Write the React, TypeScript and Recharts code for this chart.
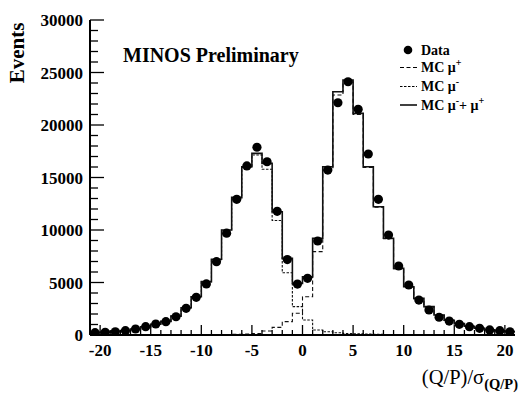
import React from "react";
import { ComposedChart, Line, Scatter, XAxis, YAxis } from "recharts";

// Bin centres of (Q/P)/sigma(Q/P)
const BIN_CENTERS = [
  -20.5, -19.5, -18.5, -17.5, -16.5, -15.5, -14.5, -13.5, -12.5, -11.5,
  -10.5, -9.5, -8.5, -7.5, -6.5, -5.5, -4.5, -3.5, -2.5, -1.5, -0.5,
  0.5, 1.5, 2.5, 3.5, 4.5, 5.5, 6.5, 7.5, 8.5, 9.5,
  10.5, 11.5, 12.5, 13.5, 14.5, 15.5, 16.5, 17.5, 18.5, 19.5, 20.5,
];

const DATA_EVENTS = [
  220, 260, 310, 410, 570, 790, 1050, 1270, 1740, 2540,
  3590, 4860, 6980, 9700, 12920, 16100, 17880, 16500, 11780, 7180, 4850,
  5400, 8950, 15710, 22120, 24120, 21500, 17240, 12920, 9520, 6570,
  4760, 3330, 2380, 1690, 1330, 1020, 790, 640, 480, 410, 310,
];

const MC_TOTAL = [
  230, 270, 330, 420, 560, 780, 1020, 1300, 1800, 2600,
  3650, 5080, 7210, 10000, 13110, 16030, 17300, 16350, 11740, 7300, 4920,
  5550, 9210, 16030, 23170, 24290, 21110, 16030, 12220, 9210, 6350,
  4600, 3490, 2700, 1900, 1400, 1080, 830, 650, 500, 400, 320,
];

const MC_MUMINUS = [
  230, 270, 330, 420, 560, 780, 1020, 1300, 1795, 2590,
  3635, 5060, 7180, 9960, 13050, 15950, 17150, 15780, 10900, 5930, 2700,
  1430, 480, 310, 220, 150, 110, 80, 60, 50, 40,
  30, 25, 20, 15, 10, 10, 8, 6, 5, 4, 3,
];

const MC_MUPLUS = [
  0, 0, 0, 0, 0, 0, 0, 0, 5, 10,
  15, 20, 30, 40, 60, 80, 150, 380, 730, 1270, 2070,
  3650, 7940, 15700, 22860, 24100, 21000, 15950, 12160, 9160, 6310,
  4570, 3465, 2680, 1885, 1390, 1070, 822, 644, 495, 396, 317,
];

const X_DOMAIN = [-21, 21];
const Y_DOMAIN = [0, 30000];
const X_LABELS = [-20, -15, -10, -5, 0, 5, 10, 15, 20];
const Y_LABELS = [0, 5000, 10000, 15000, 20000, 25000, 30000];
const X_TICKS = Array.from({ length: 41 }, (_, i) => i - 20);
const Y_TICKS = Array.from({ length: 31 }, (_, i) => i * 1000);

const BIN_WIDTH = 1;

const stepData = (vals: number[]) => {
  const pts = BIN_CENTERS.map((c, i) => ({ x: c - BIN_WIDTH / 2, y: vals[i] }));
  pts.push({ x: BIN_CENTERS[BIN_CENTERS.length - 1] + BIN_WIDTH / 2, y: vals[vals.length - 1] });
  return pts;
};

const pointData = BIN_CENTERS.map((c, i) => ({ x: c, y: DATA_EVENTS[i] }));

const FONT = "'Liberation Serif', 'DejaVu Serif', serif";

const isMajorX = (v: number) => X_LABELS.includes(v);
const isMajorY = (v: number) => Y_LABELS.includes(v);

const BottomTick = (p: any) => {
  const v = p.payload.value;
  const major = isMajorX(v);
  return (
    <g>
      <line x1={p.x} x2={p.x} y1={p.y} y2={p.y - (major ? 10 : 5)} stroke="#000" strokeWidth={1.3} />
      {major && (
        <text x={p.x} y={p.y} dy={21} textAnchor="middle" fontFamily={FONT} fontWeight="bold" fontSize={17} fill="#000">
          {v}
        </text>
      )}
    </g>
  );
};

const TopTick = (p: any) => {
  const v = p.payload.value;
  const major = isMajorX(v);
  return <line x1={p.x} x2={p.x} y1={p.y} y2={p.y + (major ? 10 : 5)} stroke="#000" strokeWidth={1.3} />;
};

const LeftTick = (p: any) => {
  const v = p.payload.value;
  const major = isMajorY(v);
  return (
    <g>
      <line x1={p.x} x2={p.x + (major ? 14 : 8)} y1={p.y} y2={p.y} stroke="#000" strokeWidth={1.3} />
      {major && (
        <text x={p.x - 7} y={p.y} dy={6} textAnchor="end" fontFamily={FONT} fontWeight="bold" fontSize={17} fill="#000">
          {v}
        </text>
      )}
    </g>
  );
};

const RightTick = (p: any) => {
  const v = p.payload.value;
  const major = isMajorY(v);
  return <line x1={p.x} x2={p.x - (major ? 10 : 6)} y1={p.y} y2={p.y} stroke="#000" strokeWidth={1.3} />;
};

const Marker = (p: any) => <circle cx={p.cx} cy={p.cy} r={4.6} fill="#000" />;

export default function App() {
  return (
    <div style={{ position: "absolute", left: 0, top: 0, width: 520, height: 394, background: "#fff" }}>
      <ComposedChart width={520} height={394} margin={{ top: 20, right: 5, bottom: 0, left: 0 }}>
        <XAxis
          type="number"
          dataKey="x"
          domain={X_DOMAIN}
          ticks={X_TICKS}
          interval={0}
          height={59}
          allowDataOverflow
          tickSize={0}
          tickMargin={0}
          tickLine={false}
          axisLine={{ stroke: "#000", strokeWidth: 2 }}
          tick={<BottomTick />}
        />
        <XAxis
          xAxisId="top"
          orientation="top"
          type="number"
          dataKey="x"
          domain={X_DOMAIN}
          ticks={X_TICKS}
          interval={0}
          height={0}
          allowDataOverflow
          tickSize={0}
          tickMargin={0}
          tickLine={false}
          axisLine={{ stroke: "#000", strokeWidth: 1.5 }}
          tick={<TopTick />}
        />
        <YAxis
          type="number"
          domain={Y_DOMAIN}
          ticks={Y_TICKS}
          interval={0}
          width={90}
          allowDataOverflow
          tickSize={0}
          tickMargin={0}
          tickLine={false}
          axisLine={{ stroke: "#000", strokeWidth: 2 }}
          tick={<LeftTick />}
        />
        <YAxis
          yAxisId="right"
          orientation="right"
          type="number"
          domain={Y_DOMAIN}
          ticks={Y_TICKS}
          interval={0}
          width={0}
          allowDataOverflow
          tickSize={0}
          tickMargin={0}
          tickLine={false}
          axisLine={{ stroke: "#000", strokeWidth: 1.5 }}
          tick={<RightTick />}
        />
        <Line
          data={stepData(MC_MUPLUS)}
          dataKey="y"
          type="stepAfter"
          stroke="#111"
          strokeWidth={1.1}
          strokeDasharray="4 2.5"
          dot={false}
          isAnimationActive={false}
        />
        <Line
          data={stepData(MC_MUMINUS)}
          dataKey="y"
          type="stepAfter"
          stroke="#111"
          strokeWidth={1.1}
          strokeDasharray="2.5 1.5"
          dot={false}
          isAnimationActive={false}
        />
        <Line
          data={stepData(MC_TOTAL)}
          dataKey="y"
          type="stepAfter"
          stroke="#111"
          strokeWidth={1.6}
          dot={false}
          isAnimationActive={false}
        />
        <Scatter data={pointData} dataKey="y" fill="#000" shape={<Marker />} isAnimationActive={false} />
      </ComposedChart>
      <svg
        width={520}
        height={394}
        style={{ position: "absolute", left: 0, top: 0, pointerEvents: "none" }}
      >
        <text x={123} y={62} fontFamily={FONT} fontWeight="bold" fontSize={20} fill="#000">
          MINOS Preliminary
        </text>
        <text
          transform="translate(24,53) rotate(-90)"
          textAnchor="middle"
          fontFamily={FONT}
          fontWeight="bold"
          fontSize={21}
          fill="#000"
        >
          Events
        </text>
        <text x={518} y={384} textAnchor="end" fontFamily={FONT} fontSize={20.5} fill="#000">
          <tspan>(Q/P)/σ</tspan>
          <tspan dy={5} fontSize={14.5} fontWeight="bold">(Q/P)</tspan>
        </text>
        {/* legend */}
        <g fontFamily={FONT} fontWeight="bold" fontSize={14} fill="#000">
          <circle cx={408} cy={50} r={4.3} fill="#000" />
          <text x={421} y={55}>Data</text>
          <line x1={400} x2={417} y1={67.5} y2={67.5} stroke="#000" strokeWidth={1} strokeDasharray="4 2.5" />
          <text x={421} y={72}>
            MC μ<tspan dy={-6} fontSize={10}>+</tspan>
          </text>
          <line x1={400} x2={417} y1={86.5} y2={86.5} stroke="#000" strokeWidth={1} strokeDasharray="2.5 1.5" />
          <text x={421} y={91}>
            MC μ<tspan dy={-6} fontSize={10}>-</tspan>
          </text>
          <line x1={400} x2={417} y1={105} y2={105} stroke="#000" strokeWidth={1.5} />
          <text x={421} y={110}>
            MC μ<tspan dy={-6} fontSize={10}>-</tspan>
            <tspan dy={6}>+ μ</tspan>
            <tspan dy={-6} fontSize={10}>+</tspan>
          </text>
        </g>
      </svg>
    </div>
  );
}
